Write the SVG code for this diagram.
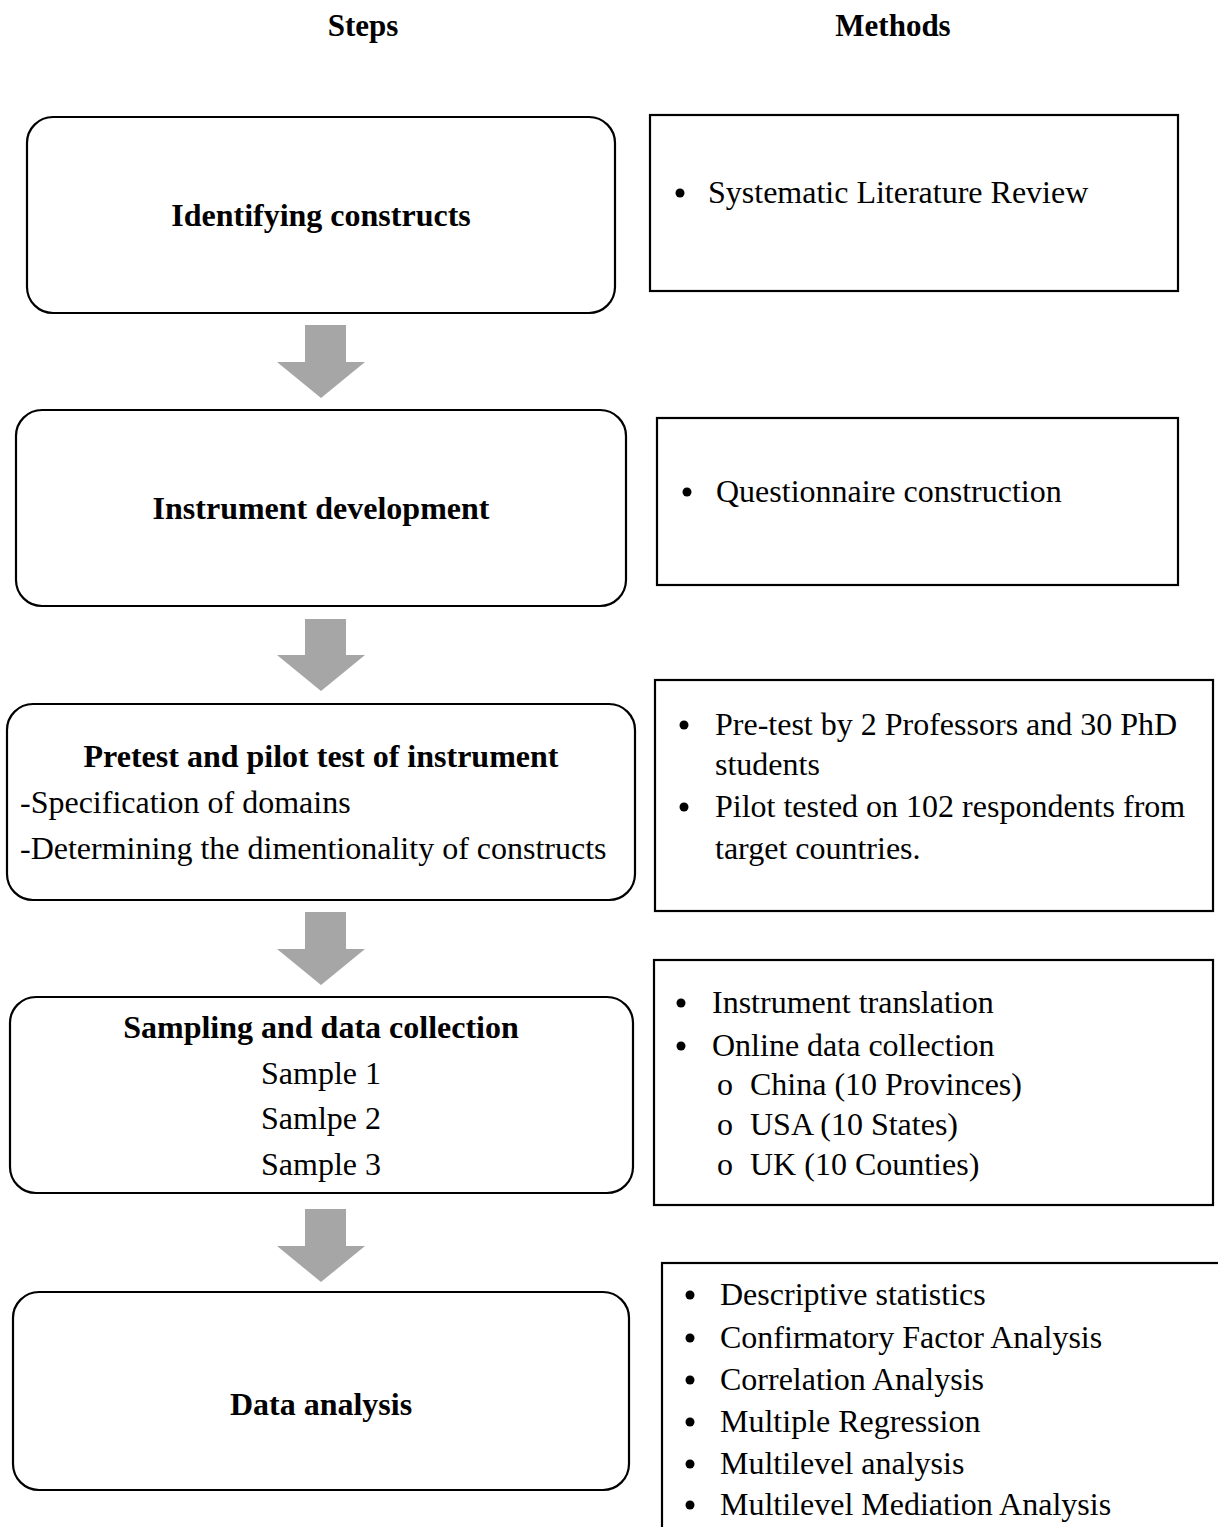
<svg xmlns="http://www.w3.org/2000/svg" width="1218" height="1527" viewBox="0 0 1218 1527">
  <style>
    .step { fill: #ffffff; stroke: #000000; stroke-width: 2.2; }
    .method { fill: #ffffff; stroke: #000000; stroke-width: 2.2; }
    .t { font-family: "Liberation Serif", "Times New Roman", serif; font-size: 32px; fill: #000000; }
    .b { font-weight: bold; }
    .c { text-anchor: middle; }
    .arrow { fill: #a6a6a6; }
    .dot { fill: #000000; }
  </style>

  <!-- column headings -->
  <g id="headings">
    <text class="t b c" x="363" y="36" style="font-size:31px">Steps</text>
    <text class="t b c" x="893" y="36" style="font-size:31px">Methods</text>
  </g>

  <!-- connectors between steps -->
  <g id="connectors">
    <path class="arrow" d="M 305 325 H 346 V 362 H 365 L 321 398 L 277 362 H 305 Z"/>
    <path class="arrow" d="M 305 619 H 346 V 655 H 365 L 321 691 L 277 655 H 305 Z"/>
    <path class="arrow" d="M 305 912 H 346 V 949 H 365 L 321 985 L 277 949 H 305 Z"/>
    <path class="arrow" d="M 305 1209 H 346 V 1246 H 365 L 321 1282 L 277 1246 H 305 Z"/>
  </g>

  <!-- step 1 -->
  <g id="step-identifying">
    <rect class="step" x="27" y="117" width="588" height="196" rx="26"/>
    <text class="t b c" x="321" y="226">Identifying constructs</text>
  </g>
  <g id="method-identifying">
    <rect class="method" x="650" y="115" width="528" height="176"/>
    <circle class="dot" cx="680" cy="193" r="4.5"/>
    <text class="t" x="708" y="203">Systematic Literature Review</text>
  </g>

  <!-- step 2 -->
  <g id="step-instrument">
    <rect class="step" x="16" y="410" width="610" height="196" rx="26"/>
    <text class="t b c" x="321" y="519">Instrument development</text>
  </g>
  <g id="method-instrument">
    <rect class="method" x="657" y="418" width="521" height="167"/>
    <circle class="dot" cx="687" cy="492" r="4.5"/>
    <text class="t" x="716" y="502">Questionnaire construction</text>
  </g>

  <!-- step 3 -->
  <g id="step-pretest">
    <rect class="step" x="7" y="704" width="628" height="196" rx="26"/>
    <text class="t b c" x="321" y="767">Pretest and pilot test of instrument</text>
    <text class="t" x="20" y="813">-Specification of domains</text>
    <text class="t" x="20" y="859">-Determining the dimentionality of constructs</text>
  </g>
  <g id="method-pretest">
    <rect class="method" x="655" y="680" width="558" height="231"/>
    <circle class="dot" cx="684" cy="725" r="4.5"/>
    <text class="t" x="715" y="735">Pre-test by 2 Professors and 30 PhD</text>
    <text class="t" x="715" y="775">students</text>
    <circle class="dot" cx="684" cy="807" r="4.5"/>
    <text class="t" x="715" y="817">Pilot tested on 102 respondents from</text>
    <text class="t" x="715" y="859">target countries.</text>
  </g>

  <!-- step 4 -->
  <g id="step-sampling">
    <rect class="step" x="10" y="997" width="623" height="196" rx="26"/>
    <text class="t b c" x="321" y="1038">Sampling and data collection</text>
    <text class="t c" x="321" y="1084">Sample 1</text>
    <text class="t c" x="321" y="1129">Samlpe 2</text>
    <text class="t c" x="321" y="1175">Sample 3</text>
  </g>
  <g id="method-sampling">
    <rect class="method" x="654" y="960" width="559" height="245"/>
    <circle class="dot" cx="681" cy="1003" r="4.5"/>
    <text class="t" x="712" y="1013">Instrument translation</text>
    <circle class="dot" cx="681" cy="1046" r="4.5"/>
    <text class="t" x="712" y="1056">Online data collection</text>
    <text class="t" x="717" y="1095">o</text>
    <text class="t" x="750" y="1095">China (10 Provinces)</text>
    <text class="t" x="717" y="1135">o</text>
    <text class="t" x="750" y="1135">USA (10 States)</text>
    <text class="t" x="717" y="1175">o</text>
    <text class="t" x="750" y="1175">UK (10 Counties)</text>
  </g>

  <!-- step 5 -->
  <g id="step-analysis">
    <rect class="step" x="13" y="1292" width="616" height="198" rx="26"/>
    <text class="t b c" x="321" y="1415">Data analysis</text>
  </g>
  <g id="method-analysis">
    <rect class="method" x="662" y="1263" width="600" height="320"/>
    <circle class="dot" cx="690" cy="1295" r="4.5"/>
    <text class="t" x="720" y="1305">Descriptive statistics</text>
    <circle class="dot" cx="690" cy="1338" r="4.5"/>
    <text class="t" x="720" y="1348">Confirmatory Factor Analysis</text>
    <circle class="dot" cx="690" cy="1380" r="4.5"/>
    <text class="t" x="720" y="1390">Correlation Analysis</text>
    <circle class="dot" cx="690" cy="1422" r="4.5"/>
    <text class="t" x="720" y="1432">Multiple Regression</text>
    <circle class="dot" cx="690" cy="1464" r="4.5"/>
    <text class="t" x="720" y="1474">Multilevel analysis</text>
    <circle class="dot" cx="690" cy="1505" r="4.5"/>
    <text class="t" x="720" y="1515">Multilevel Mediation Analysis</text>
  </g>
</svg>
